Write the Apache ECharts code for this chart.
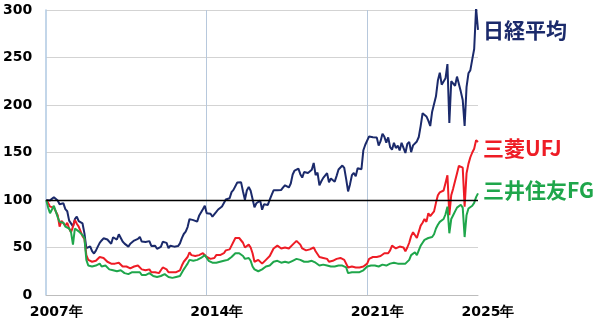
<!DOCTYPE html>
<html><head><meta charset="utf-8">
<script src="https://cdn.jsdelivr.net/npm/echarts@6/dist/echarts.min.js"></script>
<style>html,body{margin:0;padding:0;background:#fff}#c{width:600px;height:320px}</style>
</head><body><div id="c"></div>
<script>
// Monthly index (Jan 2007 = 100), Jan 2007 .. Nov 2025
const startYear = 2007;
const monthCount = 227;
const labelIdx = [0, 84, 168, 226];
const vGridIdx = [84, 168];
const yTicks = [0, 50, 100, 150, 200, 250, 300];
const seriesNames = ['日経平均', '三菱UFJ', '三井住友FG'];

const nikkei = [
100,101.5,99.6,100.3,103.0,104.5,99.4,95.5,96.7,96.5,90.4,88.2,
78.3,78.4,72.2,79.8,82.6,77.7,77.1,75.3,64.9,49.4,49.1,51.1,
46.1,43.6,46.7,50.9,54.9,57.4,59.7,60.5,58.4,57.8,53.9,60.8,
58.8,58.4,63.9,63.7,56.3,54.1,55.0,50.9,54.0,53.0,57.3,59.0,
59.0,61.2,56.2,56.8,55.9,56.6,56.7,51.6,50.1,51.8,48.6,48.7,
50.7,56.0,58.1,54.9,49.2,51.9,50.1,50.9,51.1,51.5,54.4,59.9,
64.2,66.6,71.5,79.9,79.4,78.8,78.8,77.2,83.3,82.6,90.3,93.9,
86.0,85.5,85.5,82.4,84.3,87.4,90.0,88.9,93.2,94.6,100.6,100.6,
101.9,108.3,110.7,112.5,118.5,116.6,118.6,108.9,100.2,110.0,113.8,109.7,
101.0,92.4,96.6,96.1,99.3,89.8,95.5,97.3,94.8,100.4,105.5,110.2,
109.7,110.2,109.0,110.6,113.3,115.5,114.8,113.2,117.3,126.9,131.0,131.2,
133.1,127.2,123.6,129.5,128.0,128.5,130.0,131.8,139.0,126.3,128.8,115.4,
119.7,123.3,122.2,128.3,118.7,122.6,124.0,119.3,125.4,132.1,134.2,136.3,
133.7,121.9,109.0,116.4,126.1,128.5,125.1,133.4,133.6,132.4,152.4,158.2,
159.4,166.9,168.2,166.1,166.3,165.9,157.3,161.9,169.8,166.5,160.4,165.9,
155.6,152.9,160.3,154.7,157.2,152.1,160.2,161.9,149.5,159.0,161.2,150.4,
157.5,158.2,161.6,166.3,178.0,191.3,191.2,188.0,183.6,177.9,193.0,192.9,
209.1,225.7,234.0,221.4,221.8,228.1,243.0,181.0,225.0,225.2,220.2,229.9,
228.1,214.1,205.3,178.0,218.8,233.3,236.7,248.0,259.0,302.0,279.0
];

const mufg = [
100,97,93,91,92,90,84,72,78,79,73,76,
70,66,72,79,75,72,70,62,59,42,37,38,
35,33,36,38,40,41,39,38,35,33,33,33,
33,33,34,33,30,29,30,29,28,28,30,31,
31,32,27,27,26,26,27,24,24,24,23,23,
26,29,29,27,24,25,24,23,24,24,26,31,
35,37,40,45,42,40,41,39,42,43,44,45,
40,39,38,37,39,42,41,42,43,44,47,46,
48,52,53,60,61,60,58,55,50,52,53,50,
44,35,34,37,38,33,35,37,38,41,45,49,
50,52,50,49,48,50,51,49,51,53,55,57,
57,53,49,50,47,46,48,48,50,46,45,40,
41,39,37,38,35,35,36,35,38,38,39,38,
37,35,29,30,30,31,29,30,29,28,30,32,
33,38,40,40,42,40,40,41,43,44,43,44,
47,52,52,49,51,51,50,50,46,50,55,62,
66,67,60,62,73,76,80,77,86,83,85,88,
97,105,108,106,110,118,126,84,105,112,120,128,
136,137,134,93,128,138,145,150,154,163,161
];

const smfg = [
100,92,86,90,94,88,82,77,75,76,72,72,
70,66,53,70,72,67,65,63,60,37,31,30,
30,29,31,32,33,30,30,31,29,27,26,26,
26,25,26,26,24,23,23,22,23,24,24,24,
23,24,21,21,21,22,23,21,20,20,19,19,
20,21,22,21,19,19,18,18,19,19,20,21,
27,30,33,37,37,36,38,37,38,39,40,42,
39,36,35,34,33,34,35,35,35,36,37,37,
38,40,42,44,45,44,43,41,38,40,39,36,
30,27,26,25,24,27,28,30,30,31,33,35,
35,36,35,34,34,35,35,34,35,36,37,38,
38,37,36,35,35,35,35,36,36,34,33,31,
32,32,31,31,30,30,30,30,31,31,31,31,
31,29,23,24,24,25,24,24,24,23,26,28,
30,31,31,30,31,30,30,31,32,31,31,32,
33,34,34,33,33,33,33,34,33,34,37,42,
44,45,42,43,52,55,58,57,60,61,61,64,
70,74,77,77,80,85,93,65,80,84,88,92,
94,95,92,61,84,91,92,94,97,103,107
];

const months = [];
for (let i = 0; i < monthCount; i++) {
  const y = startYear + Math.floor(i / 12);
  const m = (i % 12) + 1;
  months.push(y + '-' + (m < 10 ? '0' + m : m));
}

const colors = ['#1B2A6B', '#EE1C25', '#1FA64B'];
const labelFont = "'Noto Sans CJK JP', sans-serif";

function mkSeries(name, data, color, offset, extra) {
  return Object.assign({
    name: name, type: 'line', data: data, showSymbol: false, symbol: 'none',
    lineStyle: { color: color, width: 2 }, itemStyle: { color: color },
    animation: false, silent: true,
    endLabel: {
      show: true, formatter: name, color: color, fontWeight: 'bold',
      fontSize: 21, fontFamily: labelFont, distance: 5, offset: offset
    }
  }, extra || {});
}

const chart = echarts.init(document.getElementById('c'), null, { renderer: 'canvas' });
chart.setOption({
  animation: false,
  grid: { left: 46, right: 122, top: 10, bottom: 25, containLabel: false },
  xAxis: {
    type: 'category', data: months, boundaryGap: false,
    axisLine: { show: true, lineStyle: { color: '#BDBDBD', width: 1 } },
    axisTick: { show: false },
    axisLabel: {
      interval: function (i) { return labelIdx.indexOf(i) >= 0; },
      formatter: function (v) { return v.slice(0, 4) + '年'; },
      color: '#000', fontWeight: 'bold', fontSize: 14, fontFamily: 'DejaVu Sans',
      margin: 10, padding: [0, 0, 0, 20], showMaxLabel: true, showMinLabel: true
    },
    splitLine: {
      show: true,
      interval: function (i) { return vGridIdx.indexOf(i) >= 0; },
      lineStyle: { color: '#B7C8DC', width: 1 }
    }
  },
  yAxis: {
    type: 'value', min: yTicks[0], max: yTicks[yTicks.length - 1], interval: 50,
    axisLine: { show: true, lineStyle: { color: '#AFC8E2', width: 1.5 } },
    axisTick: { show: false },
    axisLabel: { color: '#000', fontWeight: 'bold', fontSize: 14, fontFamily: 'DejaVu Sans', margin: 14 },
    splitLine: { show: true, lineStyle: { color: '#D3D3D3', width: 1 } }
  },
  series: [
    mkSeries(seriesNames[0], nikkei, colors[0], [0, 0], {
      markLine: {
        silent: true, symbol: 'none', label: { show: false },
        lineStyle: { color: '#000', width: 1.3, type: 'solid' },
        data: [{ yAxis: 100 }]
      }
    }),
    mkSeries(seriesNames[1], mufg, colors[1], [0, 6]),
    mkSeries(seriesNames[2], smfg, colors[2], [0, -3])
  ]
});
</script></body></html>
